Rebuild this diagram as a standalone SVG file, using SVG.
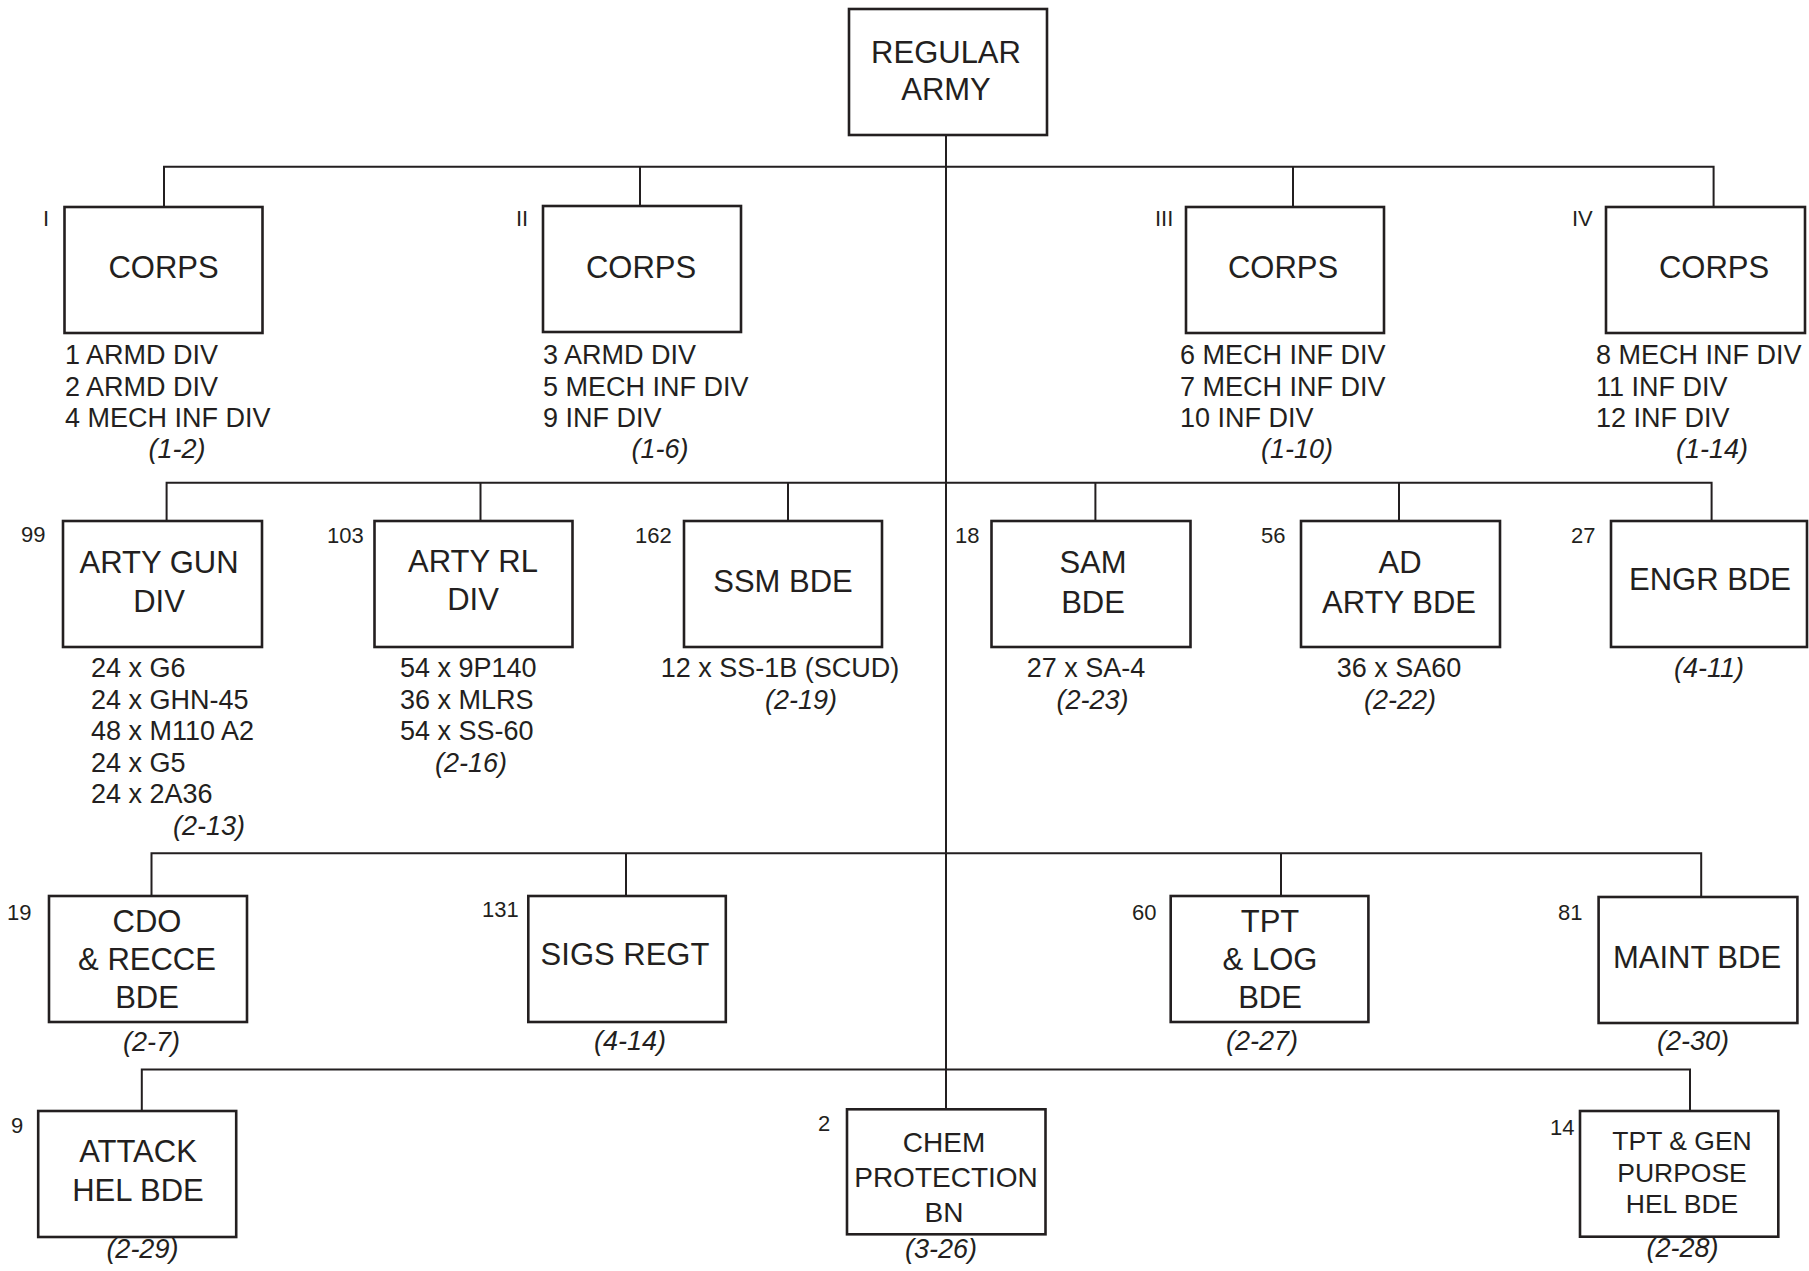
<svg xmlns="http://www.w3.org/2000/svg" width="1809" height="1271" viewBox="0 0 1809 1271">
<style>
.box{fill:#fff;stroke:#231f20;stroke-width:2.6}
.conn{stroke:#231f20;stroke-width:2;fill:none}
text{font-family:"Liberation Sans",Arial,sans-serif;fill:#231f20}
.lbl{font-size:31px;text-anchor:middle}
.sub{font-size:27px}
.mid{text-anchor:middle}
.ref{font-size:27px;font-style:italic;text-anchor:middle}
.num{font-size:22px}
</style>
<rect width="1809" height="1271" fill="#fff"/>
<g id="connectors">
<path class="conn" d="M946 135V1109.3"/>
<path class="conn" d="M164 207V166.7H1713.6V207M640 166.7V206M1293 166.7V207"/>
<path class="conn" d="M166.6 521V482.7H1711.6V521M480.5 482.7V521M788 482.7V521M1095.4 482.7V521M1399 482.7V521"/>
<path class="conn" d="M151.5 896V853.3H1701.2V897M626 853.3V896M1281 853.3V896"/>
<path class="conn" d="M141.8 1111V1069.5H1690V1111"/>
</g>
<g id="regular-army">
<rect class="box" x="849" y="9" width="198" height="126"/>
<text class="lbl" x="946" y="63">REGULAR</text>
<text class="lbl" x="946" y="100">ARMY</text>
</g>
<g id="corps-1">
<rect class="box" x="64.5" y="207" width="198" height="126"/>
<text class="num" x="43" y="226">I</text>
<text class="lbl" x="163.5" y="278">CORPS</text>
<text class="sub" x="65" y="364">1 ARMD DIV</text>
<text class="sub" x="65" y="395.5">2 ARMD DIV</text>
<text class="sub" x="65" y="427">4 MECH INF DIV</text>
<text class="ref" x="177" y="458">(1-2)</text>
</g>
<g id="corps-2">
<rect class="box" x="543" y="206" width="198" height="126"/>
<text class="num" x="516" y="226">II</text>
<text class="lbl" x="641" y="278">CORPS</text>
<text class="sub" x="543" y="364">3 ARMD DIV</text>
<text class="sub" x="543" y="395.5">5 MECH INF DIV</text>
<text class="sub" x="543" y="427">9 INF DIV</text>
<text class="ref" x="660" y="458">(1-6)</text>
</g>
<g id="corps-3">
<rect class="box" x="1186" y="207" width="198" height="126"/>
<text class="num" x="1155" y="226">III</text>
<text class="lbl" x="1283" y="278">CORPS</text>
<text class="sub" x="1180" y="364">6 MECH INF DIV</text>
<text class="sub" x="1180" y="395.5">7 MECH INF DIV</text>
<text class="sub" x="1180" y="427">10 INF DIV</text>
<text class="ref" x="1297" y="458">(1-10)</text>
</g>
<g id="corps-4">
<rect class="box" x="1606" y="207" width="199" height="126"/>
<text class="num" x="1572" y="226">IV</text>
<text class="lbl" x="1714" y="278">CORPS</text>
<text class="sub" x="1596" y="364">8 MECH INF DIV</text>
<text class="sub" x="1596" y="395.5">11 INF DIV</text>
<text class="sub" x="1596" y="427">12 INF DIV</text>
<text class="ref" x="1712" y="458">(1-14)</text>
</g>
<g id="arty-gun-div">
<rect class="box" x="63" y="521" width="199" height="126"/>
<text class="num" x="21" y="542">99</text>
<text class="lbl" x="159" y="573">ARTY GUN</text>
<text class="lbl" x="159" y="611.5">DIV</text>
<text class="sub" x="91" y="677">24 x G6</text>
<text class="sub" x="91" y="708.5">24 x GHN-45</text>
<text class="sub" x="91" y="740">48 x M110 A2</text>
<text class="sub" x="91" y="771.5">24 x G5</text>
<text class="sub" x="91" y="803">24 x 2A36</text>
<text class="ref" x="209" y="835">(2-13)</text>
</g>
<g id="arty-rl-div">
<rect class="box" x="374.5" y="521" width="198" height="126"/>
<text class="num" x="327" y="543">103</text>
<text class="lbl" x="473" y="571.5">ARTY RL</text>
<text class="lbl" x="473" y="610">DIV</text>
<text class="sub" x="400" y="677">54 x 9P140</text>
<text class="sub" x="400" y="708.5">36 x MLRS</text>
<text class="sub" x="400" y="740">54 x SS-60</text>
<text class="ref" x="471" y="771.5">(2-16)</text>
</g>
<g id="ssm-bde">
<rect class="box" x="684" y="521" width="198" height="126"/>
<text class="num" x="635" y="543">162</text>
<text class="lbl" x="783" y="591.5">SSM BDE</text>
<text class="sub mid" x="780" y="677">12 x SS-1B (SCUD)</text>
<text class="ref" x="801" y="708.5">(2-19)</text>
</g>
<g id="sam-bde">
<rect class="box" x="991.5" y="521" width="199" height="126"/>
<text class="num" x="955" y="543">18</text>
<text class="lbl" x="1093" y="573">SAM</text>
<text class="lbl" x="1093" y="612.5">BDE</text>
<text class="sub mid" x="1086" y="677">27 x SA-4</text>
<text class="ref" x="1092.5" y="708.5">(2-23)</text>
</g>
<g id="ad-arty-bde">
<rect class="box" x="1301" y="521" width="199" height="126"/>
<text class="num" x="1261" y="543">56</text>
<text class="lbl" x="1400" y="573">AD</text>
<text class="lbl" x="1399" y="612.5">ARTY BDE</text>
<text class="sub mid" x="1399" y="677">36 x SA60</text>
<text class="ref" x="1400" y="708.5">(2-22)</text>
</g>
<g id="engr-bde">
<rect class="box" x="1611" y="521" width="196" height="126"/>
<text class="num" x="1571" y="543">27</text>
<text class="lbl" x="1710" y="590">ENGR BDE</text>
<text class="ref" x="1709" y="677">(4-11)</text>
</g>
<g id="cdo-recce-bde">
<rect class="box" x="49" y="896" width="198" height="126"/>
<text class="num" x="7" y="920">19</text>
<text class="lbl" x="147" y="931.7">CDO</text>
<text class="lbl" x="147" y="970">&amp; RECCE</text>
<text class="lbl" x="147" y="1008.3">BDE</text>
<text class="ref" x="151.5" y="1051">(2-7)</text>
</g>
<g id="sigs-regt">
<rect class="box" x="528.3" y="896" width="197.5" height="126"/>
<text class="num" x="482" y="917">131</text>
<text class="lbl" x="625" y="965">SIGS REGT</text>
<text class="ref" x="630" y="1050">(4-14)</text>
</g>
<g id="tpt-log-bde">
<rect class="box" x="1170.7" y="896" width="197.7" height="126"/>
<text class="num" x="1132" y="920">60</text>
<text class="lbl" x="1270" y="932">TPT</text>
<text class="lbl" x="1270" y="970">&amp; LOG</text>
<text class="lbl" x="1270" y="1008.3">BDE</text>
<text class="ref" x="1262" y="1050">(2-27)</text>
</g>
<g id="maint-bde">
<rect class="box" x="1598.6" y="897" width="198.8" height="126"/>
<text class="num" x="1558" y="920">81</text>
<text class="lbl" x="1697" y="968">MAINT BDE</text>
<text class="ref" x="1693" y="1050">(2-30)</text>
</g>
<g id="attack-hel-bde">
<rect class="box" x="38.2" y="1111" width="198" height="126"/>
<text class="num" x="11" y="1133">9</text>
<text class="lbl" x="138" y="1161.7">ATTACK</text>
<text class="lbl" x="138" y="1200.7">HEL BDE</text>
<text class="ref" x="142.4" y="1258">(2-29)</text>
</g>
<g id="chem-protection-bn">
<rect class="box" x="847" y="1109.3" width="198.5" height="125"/>
<text class="num" x="818" y="1131">2</text>
<text class="lbl" x="944" y="1151.7" style="font-size:28px">CHEM</text>
<text class="lbl" x="946" y="1186.7" style="font-size:28px">PROTECTION</text>
<text class="lbl" x="944" y="1221.7" style="font-size:28px">BN</text>
<text class="ref" x="941" y="1258">(3-26)</text>
</g>
<g id="tpt-gen-purpose-hel-bde">
<rect class="box" x="1580" y="1111" width="198.3" height="125.7"/>
<text class="num" x="1550" y="1135">14</text>
<text class="lbl" x="1682" y="1150" style="font-size:26.5px">TPT &amp; GEN</text>
<text class="lbl" x="1682" y="1181.7" style="font-size:26.5px">PURPOSE</text>
<text class="lbl" x="1682" y="1213.3" style="font-size:26.5px">HEL BDE</text>
<text class="ref" x="1682.5" y="1257">(2-28)</text>
</g>
</svg>
